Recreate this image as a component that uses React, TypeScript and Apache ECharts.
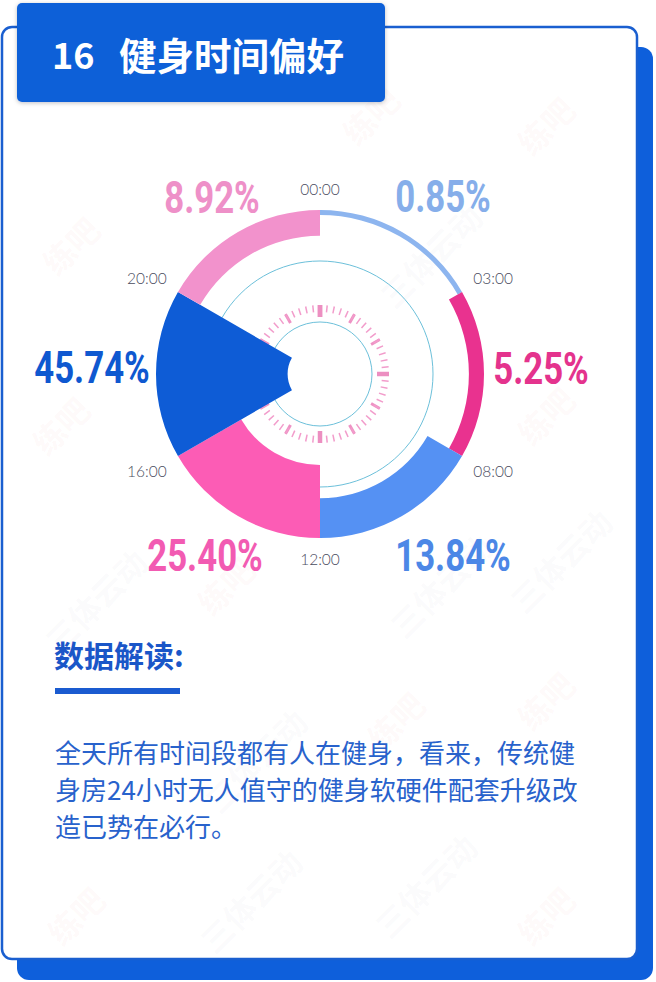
import React, { useEffect, useRef } from 'react';
import * as echarts from 'echarts';

// ---- data ----
const timeLabels = ['00:00', '03:00', '08:00', '12:00', '16:00', '20:00'];
const shares = [0.85, 5.25, 13.84, 25.4, 45.74, 8.92];
const segmentColors = ['#8db5ef', '#e9328f', '#5591f3', '#fc5cb5', '#0e5cd6', '#f292cc'];
const labelColors = ['#86aeea', '#e4338d', '#4c87e6', '#f25bb2', '#0f58d0', '#ee90c8'];
const titleNumber = '16';
const titleText = '健身时间偏好';
const headingText = '数据解读:';
const bodyLines = [
  '全天所有时间段都有人在健身，看来，传统健',
  '身房24小时无人值守的健身软硬件配套升级改',
  '造已势在必行。',
];
const watermarkA = '练吧';
const watermarkB = '三体云动';

// ---- layout ----
const CX = 320;
const CY = 374;
const R = 164;
const valueLabelPos = [
  [443, 197],
  [541, 369],
  [453, 556],
  [205, 556],
  [92, 368],
  [212, 198],
];
const watermarkAPos = [
  [70, 245], [370, 115], [545, 125], [60, 425], [545, 415], [225, 585],
  [395, 720], [545, 700], [75, 915], [545, 915],
];
const watermarkBPos = [
  [430, 255], [95, 600], [255, 760], [440, 585], [250, 900], [425, 885], [560, 560],
];

const App: React.FC = () => {
  const ref = useRef<HTMLDivElement>(null);

  useEffect(() => {
    if (!ref.current) return;
    const chart = echarts.init(ref.current, null, { renderer: 'svg' });

    const graphics: any[] = [
      // shadow card
      { type: 'rect', z: 0, shape: { x: 17, y: 47, width: 636, height: 933, r: 12 }, style: { fill: '#0e5fdb' } },
      // main card
      {
        type: 'rect', z: 0,
        shape: { x: 2, y: 27, width: 635, height: 932, r: 10 },
        style: { fill: '#ffffff', stroke: '#1a5fd0', lineWidth: 2.5 },
      },
    ];

    watermarkAPos.forEach((p) => {
      graphics.push({
        type: 'text', z: 0, x: p[0], y: p[1], rotation: Math.PI / 4, silent: true,
        style: {
          text: watermarkA, fill: 'rgba(240,120,110,0.055)', fontSize: 32, fontWeight: 'bold',
          fontFamily: 'Noto Sans CJK SC', textAlign: 'center', textVerticalAlign: 'middle',
        },
      });
    });
    watermarkBPos.forEach((p) => {
      graphics.push({
        type: 'text', z: 0, x: p[0], y: p[1], rotation: Math.PI / 4, silent: true,
        style: {
          text: watermarkB, fill: 'rgba(130,140,160,0.045)', fontSize: 32, fontWeight: 'bold',
          fontFamily: 'Noto Sans CJK SC', textAlign: 'center', textVerticalAlign: 'middle',
        },
      });
    });

    graphics.push(
      // title tab
      {
        type: 'rect', z: 0,
        shape: { x: 17, y: 3, width: 368, height: 99, r: 5 },
        style: { fill: '#1160d8', shadowBlur: 4, shadowColor: 'rgba(0,0,40,0.25)', shadowOffsetY: 1 },
      },
      {
        type: 'text', z: 5, x: 52, y: 53,
        style: {
          text: titleNumber, fill: '#ffffff', fontSize: 36, fontWeight: 'bold',
          fontFamily: 'Noto Sans CJK SC', textVerticalAlign: 'middle',
        },
      },
      {
        type: 'text', z: 5, x: 119, y: 53,
        style: {
          text: titleText, fill: '#ffffff', fontSize: 37.5, fontWeight: 'bold',
          fontFamily: 'Noto Sans CJK SC', textVerticalAlign: 'middle',
        },
      },
      // decorative thin circles
      { type: 'circle', z: 1, shape: { cx: CX, cy: CY, r: 113 }, style: { fill: 'none', stroke: '#6cc0da', lineWidth: 1 } },
      { type: 'circle', z: 1, shape: { cx: CX, cy: CY, r: 52 }, style: { fill: 'none', stroke: '#6cc0da', lineWidth: 1 } },
      // heading
      {
        type: 'text', z: 5, x: 54, y: 654,
        style: {
          text: headingText, fill: '#1a56c8', fontSize: 30, fontWeight: 'bold',
          fontFamily: 'Noto Sans CJK SC', textVerticalAlign: 'middle',
        },
      },
      { type: 'rect', z: 5, shape: { x: 55, y: 688, width: 125, height: 6 }, style: { fill: '#1a5bd0' } },
    );

    bodyLines.forEach((line, i) => {
      graphics.push({
        type: 'text', z: 5, x: 55, y: 751 + i * 37,
        style: {
          text: line, fill: '#2862cc', fontSize: 26,
          fontFamily: 'Noto Sans CJK SC', textVerticalAlign: 'middle',
        },
      });
    });

    shares.forEach((v, i) => {
      graphics.push({
        type: 'text', z: 6, x: valueLabelPos[i][0], y: valueLabelPos[i][1], scaleX: 0.79,
        style: {
          text: v.toFixed(2) + '%', fill: labelColors[i], fontSize: 44, fontWeight: 'bold',
          fontFamily: 'Roboto', textAlign: 'center', textVerticalAlign: 'middle',
        },
      });
    });

    const gaugeBase = {
      type: 'gauge',
      center: [CX, CY],
      radius: 69,
      startAngle: 90,
      endAngle: -270,
      min: 0,
      max: 60,
      axisLine: { show: false, lineStyle: { width: 0 } },
      progress: { show: false },
      pointer: { show: false },
      anchor: { show: false },
      title: { show: false },
      detail: { show: false },
      axisLabel: { show: false },
      data: [],
      z: 1,
      silent: true,
    };

    chart.setOption({
      animation: false,
      backgroundColor: '#ffffff',
      polar: [
        { center: [CX, CY], radius: [0, R] },
        { center: [CX, CY], radius: [0, R] },
      ],
      angleAxis: [
        {
          polarIndex: 0, type: 'category', data: timeLabels, startAngle: 90, clockwise: true,
          axisLine: { show: false }, axisTick: { show: false }, axisLabel: { show: false }, splitLine: { show: false },
        },
        {
          polarIndex: 1, type: 'category', data: timeLabels, boundaryGap: false, startAngle: 90, clockwise: true,
          axisLine: { show: false }, axisTick: { show: false }, splitLine: { show: false },
          axisLabel: { show: true, margin: 13, color: '#4a4c5e', fontSize: 15.5, fontFamily: 'Lato', fontWeight: 300 },
        },
      ],
      radiusAxis: [
        {
          polarIndex: 0, type: 'value', min: 0, max: 57, inverse: true,
          axisLine: { show: false }, axisTick: { show: false }, axisLabel: { show: false }, splitLine: { show: false },
        },
        {
          polarIndex: 1, type: 'value', min: 0, max: 1, show: false,
          axisLine: { show: false }, axisTick: { show: false }, axisLabel: { show: false }, splitLine: { show: false },
        },
      ],
      graphic: { elements: graphics },
      series: [
        {
          ...gaugeBase,
          splitNumber: 12,
          splitLine: { show: true, distance: 0, length: 10, lineStyle: { color: '#ee92c4', width: 3 } },
          axisTick: { show: true, splitNumber: 5, distance: 0, length: 7, lineStyle: { color: '#f29ccb', width: 1.5 } },
        },
        {
          ...gaugeBase,
          splitNumber: 4,
          splitLine: { show: true, distance: 0, length: 12, lineStyle: { color: '#ec8fc1', width: 4.5 } },
          axisTick: { show: false },
        },
        {
          type: 'bar',
          coordinateSystem: 'polar',
          polarIndex: 0,
          barCategoryGap: '0%',
          barMinHeight: 5,
          z: 2,
          silent: true,
          data: shares.map((v, i) => ({ value: v, itemStyle: { color: segmentColors[i] } })),
        },
      ],
    });

    return () => chart.dispose();
  }, []);

  return (
    <div
      ref={ref}
      style={{ position: 'absolute', left: 0, top: 0, width: 656, height: 982, background: '#fff' }}
    />
  );
};

export default App;
